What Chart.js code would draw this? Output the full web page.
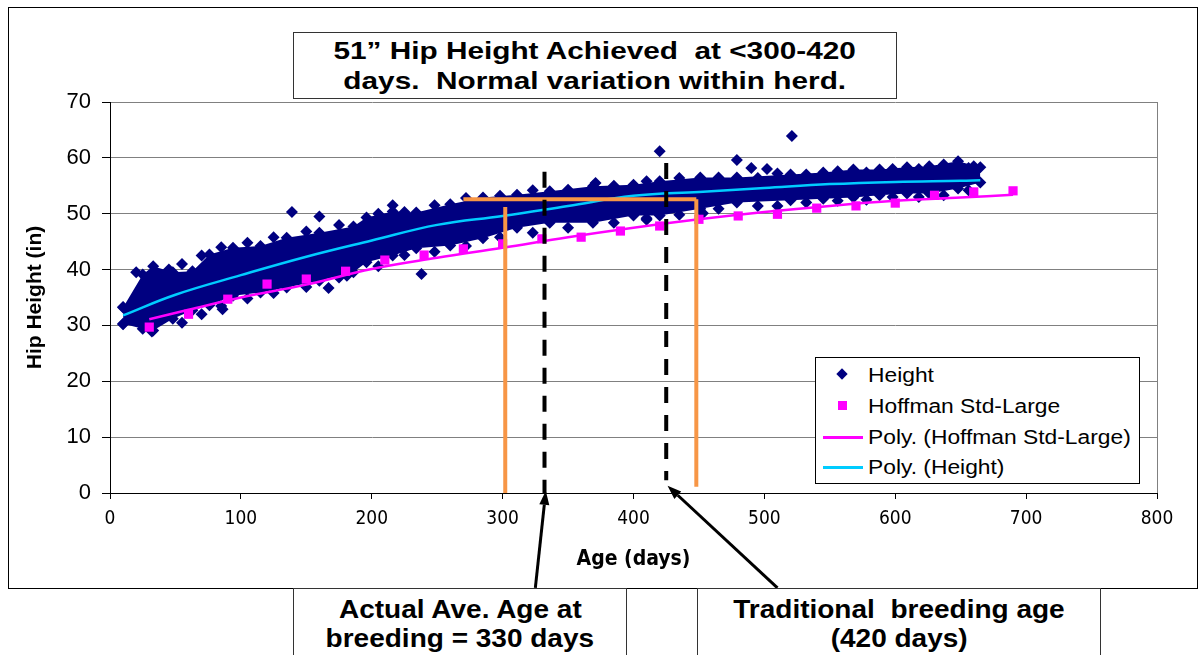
<!DOCTYPE html>
<html>
<head>
<meta charset="utf-8">
<script src="https://cdn.jsdelivr.net/npm/chart.js"></script>
<style>
body { margin: 0; background: #fff; }
#wrap { position: relative; width: 1199px; height: 655px; overflow: hidden; font-family: 'Liberation Sans', Arial, sans-serif; color: #000; }
#frame { position: absolute; left: 8px; top: 7px; width: 1188px; height: 580px; border: 1px solid #000; }
#chart { position: absolute; left: 0; top: 0; }
.box { position: absolute; background: #fff; border: 1px solid #333; text-align: center; font-weight: bold; white-space: nowrap; }
.box span { display: inline-block; }
#titleBox { left: 293px; top: 32px; width: 604px; height: 67px; font-size: 24px; line-height: 30px; padding-top: 3px; box-sizing: border-box; }
#titleBox span { transform: scaleX(1.24); }
#ageBox { left: 293px; top: 588px; width: 334px; height: 80px; font-size: 25px; line-height: 29px; padding-top: 6px; box-sizing: border-box; }
#tradBox { left: 697px; top: 588px; width: 404px; height: 80px; font-size: 25px; line-height: 29px; padding-top: 6px; box-sizing: border-box; }
.box.low span { transform: scaleX(1.12); }
#legendBox { position: absolute; left: 815px; top: 357px; width: 325px; height: 127px; border: 1px solid #000; background: #fff; box-sizing: border-box; }
.lg { position: absolute; left: 52px; font-size: 20px; line-height: 20px; white-space: nowrap; transform-origin: left center; transform: scaleX(1.14); }
.mk { position: absolute; }
</style>
</head>
<body>
<div id="wrap">
  <div id="frame"></div>
  <canvas id="chart" width="1199" height="655"></canvas>
  <div id="titleBox" class="box"><span>51” Hip Height Achieved&nbsp; at &lt;300-420</span><br><span>days.&nbsp; Normal variation within herd.</span></div>
  <div id="legendBox">
    <div class="mk" style="left:22px;top:12px;width:8px;height:8px;background:#000080;transform:rotate(45deg);"></div>
    <div class="lg" style="top:7px;">Height</div>
    <div class="mk" style="left:22px;top:43px;width:9px;height:9px;background:#FF00FF;"></div>
    <div class="lg" style="top:38px;">Hoffman Std-Large</div>
    <div class="mk" style="left:7px;top:78px;width:40px;height:3px;background:#FF00FF;"></div>
    <div class="lg" style="top:69px;">Poly. (Hoffman Std-Large)</div>
    <div class="mk" style="left:7px;top:108px;width:40px;height:3px;background:#00CCFF;"></div>
    <div class="lg" style="top:99px;">Poly. (Height)</div>
  </div>
  <div id="ageBox" class="box low"><span>Actual Ave. Age at</span><br><span>breeding = 330 days</span></div>
  <div id="tradBox" class="box low"><span>Traditional&nbsp; breeding age</span><br><span>(420 days)</span></div>
</div>
<script>
// Height cloud: edges of the dense band (diamond centres)
var bandAges = [10, 25, 33, 48, 63, 76, 94, 115, 135, 160, 186, 196, 216, 234, 260, 285, 311, 336, 369, 400, 420, 451, 479, 520, 545, 568, 588, 609, 626, 648, 665];
var bandTop = [33.2, 39.1, 40.6, 39.5, 39.7, 42.7, 43.9, 44.2, 45.7, 46.6, 47.7, 49.3, 50.4, 50.2, 51.7, 52.9, 53.4, 54.0, 54.9, 55.2, 55.8, 56.5, 56.5, 57.0, 57.4, 57.9, 57.9, 58.3, 58.5, 59.4, 58.3];
var bandBottom = [30.3, 29.4, 29.1, 31.2, 32.7, 33.6, 35.3, 35.9, 36.8, 38.0, 39.5, 41.3, 42.5, 43.8, 44.3, 45.6, 47.5, 48.4, 48.4, 49.7, 49.7, 50.9, 52.0, 52.4, 52.7, 52.9, 53.3, 53.6, 53.6, 54.5, 55.6];

// Height points sticking out along the ragged top and bottom of the band
var edgeAges = [55, 70, 85, 105, 125, 150, 175, 205, 225, 248, 272, 298, 323, 350, 385, 410, 435, 465, 495, 510, 532, 556, 578, 598, 618, 637, 656];
var edgeTop = [41.0, 42.5, 44.0, 44.8, 45.8, 46.8, 48.0, 50.0, 50.3, 51.5, 52.8, 53.2, 54.2, 54.3, 55.0, 55.8, 56.4, 56.5, 56.4, 57.2, 57.0, 57.6, 57.4, 58.0, 58.0, 58.8, 58.2];
var edgeBottom = [30.5, 32.0, 33.5, 34.8, 35.8, 36.9, 38.6, 40.6, 42.6, 43.2, 44.2, 45.8, 46.6, 47.5, 48.4, 48.9, 49.8, 50.9, 51.4, 51.4, 52.0, 52.3, 52.5, 53.0, 53.0, 53.3, 54.2];

// single Height points standing out of the band
var strayAges = [10, 10, 20, 32, 45, 86, 139, 160, 167, 181, 216, 238, 371, 410, 420, 453, 479, 490, 502, 521, 660];
var strayHeights = [33.3, 30.2, 39.5, 28.9, 40.0, 32.9, 50.3, 49.5, 36.7, 38.9, 51.5, 39.2, 55.5, 49.2, 61.2, 50.1, 59.6, 58.2, 58.0, 63.9, 58.5];

// Hoffman Std-Large standard
var hoffAges = [30, 60, 90, 120, 150, 180, 210, 240, 270, 300, 330, 360, 390, 420, 450, 480, 510, 540, 570, 600, 630, 660, 690];
var hoffHeights = [29.7, 32.0, 34.7, 37.4, 38.3, 39.7, 41.7, 42.6, 43.7, 44.6, 45.5, 45.8, 46.9, 47.8, 49.0, 49.6, 49.9, 51.0, 51.4, 51.9, 53.3, 53.9, 54.1];

// polynomial trendlines
var polyHeightAges = [10, 50, 100, 150, 200, 250, 300, 350, 400, 450, 500, 550, 600, 650, 665];
var polyHeightVals = [31.8, 35.5, 39.0, 42.3, 45.2, 48.0, 49.6, 51.4, 53.2, 53.9, 54.6, 55.3, 55.7, 55.9, 56.0];
var polyHoffAges = [30, 60, 100, 150, 200, 250, 300, 350, 400, 450, 500, 550, 600, 650, 690];
var polyHoffVals = [31.1, 32.8, 35.0, 37.3, 40.1, 42.1, 43.9, 45.8, 47.5, 49.0, 50.3, 51.4, 52.3, 52.9, 53.4];

// annotations in data units (age, height)
var orangeLines = [[[302, 0], [302, 51.2]], [[270, 52.6], [448, 52.6]], [[448, 52.6], [448, 1.1]]];
var dashedLines = [[[332, 57.5], [332, 0]], [[425, 59.1], [425, 2.3]]];
var arrowLines = [[[325, -17], [333, 0.4]], [[510, -17], [426, 1.3]]];

function pts(xs, ys) {
    return xs.map(function (x, i) { return {x: x, y: ys[i]}; });
}

var navy = '#000080';
var narrow = "'Liberation Sans Narrow', 'DejaVu Sans Condensed', 'Liberation Sans', Arial, sans-serif";
var regular = "'Liberation Sans', Arial, sans-serif";

var annotations = {
    id: 'annotations',
    beforeDatasetsDraw: function (chart) {
        var a = chart.chartArea, ctx = chart.ctx;
        ctx.save();
        ctx.strokeStyle = '#808080';
        ctx.lineWidth = 1;
        ctx.beginPath();
        ctx.moveTo(a.right + 0.5, a.top);
        ctx.lineTo(a.right + 0.5, a.bottom);
        ctx.stroke();
        ctx.restore();
    },
    afterDraw: function (chart) {
        var xs = chart.scales.x, ys = chart.scales.y, ctx = chart.ctx;
        function px(p) { return [xs.getPixelForValue(p[0]), ys.getPixelForValue(p[1])]; }
        ctx.save();
        ctx.lineCap = 'butt';
        ctx.strokeStyle = '#F79646';
        ctx.lineWidth = 4;
        orangeLines.forEach(function (l) {
            var a = px(l[0]), b = px(l[1]);
            ctx.beginPath(); ctx.moveTo(a[0], a[1]); ctx.lineTo(b[0], b[1]); ctx.stroke();
        });
        ctx.strokeStyle = '#000';
        ctx.setLineDash([16, 12]);
        dashedLines.forEach(function (l) {
            var a = px(l[0]), b = px(l[1]);
            ctx.beginPath(); ctx.moveTo(a[0], a[1]); ctx.lineTo(b[0], b[1]); ctx.stroke();
        });
        ctx.setLineDash([]);
        ctx.lineWidth = 3;
        ctx.fillStyle = '#000';
        arrowLines.forEach(function (l) {
            var a = px(l[0]), b = px(l[1]);
            var ang = Math.atan2(b[1] - a[1], b[0] - a[0]);
            var len = 14, hw = 5;
            var bx = b[0] - len * Math.cos(ang), by = b[1] - len * Math.sin(ang);
            ctx.beginPath(); ctx.moveTo(a[0], a[1]); ctx.lineTo(bx, by); ctx.stroke();
            ctx.beginPath();
            ctx.moveTo(b[0], b[1]);
            ctx.lineTo(bx + hw * Math.sin(ang), by - hw * Math.cos(ang));
            ctx.lineTo(bx - hw * Math.sin(ang), by + hw * Math.cos(ang));
            ctx.closePath();
            ctx.fill();
        });
        ctx.restore();
    }
};

function diamonds(label, data, order) {
    return {
        label: label,
        data: data,
        pointStyle: 'rectRot',
        pointRadius: 6,
        pointBackgroundColor: navy,
        pointBorderWidth: 0,
        order: order
    };
}

var upper = diamonds('Height', pts(bandAges, bandTop), 8);
upper.showLine = true;
upper.borderWidth = 0;
upper.borderColor = 'rgba(0,0,0,0)';
upper.backgroundColor = navy;
upper.fill = '+1';
var lower = diamonds('Height lower', pts(bandAges, bandBottom), 7);
lower.showLine = true;
lower.borderWidth = 0;
lower.borderColor = 'rgba(0,0,0,0)';

var ctx = document.getElementById('chart').getContext('2d');
var chart = new Chart(ctx, {
    type: 'scatter',
    data: {
        datasets: [
            upper,
            lower,
            diamonds('Height top edge', pts(edgeAges, edgeTop), 6),
            diamonds('Height bottom edge', pts(edgeAges, edgeBottom), 5),
            diamonds('Height strays', pts(strayAges, strayHeights), 4),
            {
                label: 'Hoffman Std-Large',
                data: pts(hoffAges, hoffHeights),
                pointStyle: 'rect',
                pointRadius: 6.5,
                pointBackgroundColor: '#FF00FF',
                pointBorderWidth: 0,
                order: 3
            }, {
                label: 'Poly. (Hoffman Std-Large)',
                data: pts(polyHoffAges, polyHoffVals),
                showLine: true,
                borderColor: '#FF00FF',
                borderWidth: 2.5,
                tension: 0.4,
                pointRadius: 0,
                order: 2
            }, {
                label: 'Poly. (Height)',
                data: pts(polyHeightAges, polyHeightVals),
                showLine: true,
                borderColor: '#00CCFF',
                borderWidth: 2.5,
                tension: 0.4,
                pointRadius: 0,
                order: 1
            }
        ]
    },
    options: {
        responsive: false,
        animation: false,
        layout: { padding: { left: 20, top: 102, right: 42, bottom: 62 } },
        plugins: {
            legend: { display: false },
            tooltip: { enabled: false }
        },
        scales: {
            x: {
                type: 'linear',
                min: 0,
                max: 800,
                afterFit: function (s) { s.height = 100; },
                ticks: { stepSize: 100, color: '#000', padding: 9, font: { family: narrow, size: 19 } },
                grid: { drawOnChartArea: false, tickLength: 6, color: '#000' },
                border: { color: '#000', width: 1 },
                title: { display: true, text: 'Age (days)', color: '#000', font: { family: narrow, size: 21, weight: 'bold' }, padding: { top: 0, bottom: 21 } }
            },
            y: {
                min: 0,
                max: 70,
                afterFit: function (s) { s.width = 90; },
                ticks: { stepSize: 10, color: '#000', padding: 11, font: { family: regular, size: 22 } },
                grid: { color: '#808080', tickColor: '#000', tickLength: 8 },
                border: { color: '#000', width: 1 },
                title: { display: true, text: 'Hip Height (in)', color: '#000', font: { family: regular, size: 21, weight: 'bold' }, padding: { top: 3 } }
            }
        }
    },
    plugins: [annotations]
});
</script>
</body>
</html>
